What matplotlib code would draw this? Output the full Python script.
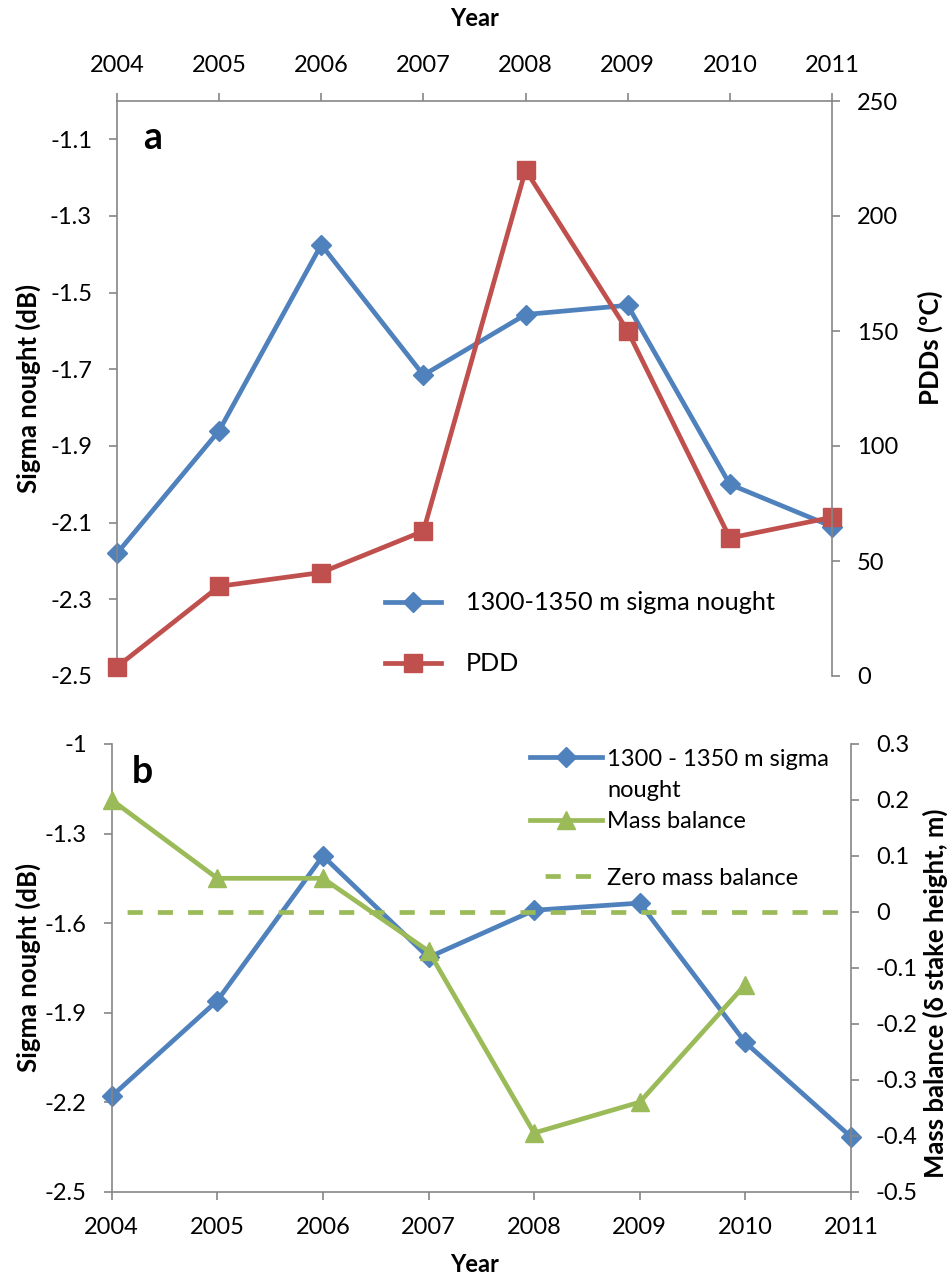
import matplotlib

matplotlib.use("Agg")
import matplotlib.pyplot as plt
from matplotlib.lines import Line2D
from matplotlib.ticker import FixedLocator

plt.rcParams["font.family"] = ["Lato", "DejaVu Sans"]
plt.rcParams["axes.unicode_minus"] = False

years = [2004, 2005, 2006, 2007, 2008, 2009, 2010, 2011]
year_labels = [str(y) for y in years]

# panel a: backscatter vs positive degree days
sigma_a = [-2.18, -1.86, -1.375, -1.715, -1.557, -1.533, -2.0, -2.11]
pdd = [4, 39, 45, 63, 220, 150, 60, 69]

# panel b: backscatter vs stake mass balance
sigma_b = [-2.18, -1.86, -1.375, -1.715, -1.557, -1.533, -2.0, -2.316]
mb_years = [2004, 2005, 2006, 2007, 2008, 2009, 2010]
mass_balance = [0.2, 0.06, 0.06, -0.07, -0.395, -0.34, -0.13]
zero_balance = [0, 0, 0, 0, 0, 0, 0, 0]

a_left_ticks = [-2.5, -2.3, -2.1, -1.9, -1.7, -1.5, -1.3, -1.1]
a_right_ticks = [0, 50, 100, 150, 200, 250]
b_left_ticks = [-2.5, -2.2, -1.9, -1.6, -1.3, -1.0]
b_right_ticks = [-0.5, -0.4, -0.3, -0.2, -0.1, 0.0, 0.1, 0.2, 0.3]

BLUE = "#4F81BD"
RED = "#C0504D"
GREEN = "#9BBB59"
GREY = "#868686"
FS = 17
LABEL_FS = 18.5
LW = 3.4


def style_axis(ax):
    for spine in ax.spines.values():
        spine.set_color(GREY)
        spine.set_linewidth(1.2)
    ax.tick_params(which="both", direction="out", length=6, width=1.2,
                   color=GREY, labelsize=FS, pad=12)


def fmt(v):
    return f"{v:g}"


W, H = 951, 1281
fig = plt.figure(figsize=(W / 100, H / 100), dpi=100)
ax_a = fig.add_axes([117 / W, 1 - 676 / H, 715 / W, 575 / H])
ax_b = fig.add_axes([111.7 / W, 1 - 1191.7 / H, 739.2 / W, 447.7 / H])

# ---- panel a ----
ax_pdd = ax_a.twinx()
for ax in (ax_a, ax_pdd):
    style_axis(ax)
    for side in ax.spines:
        ax.spines[side].set_visible(False)
ax_a.spines["left"].set_visible(True)
ax_a.spines["top"].set_visible(True)
ax_pdd.spines["right"].set_visible(True)

sig_line_a, = ax_a.plot(years, sigma_a, color=BLUE, lw=LW, marker="D",
                        ms=10.5, mec=BLUE, clip_on=False)
pdd_line, = ax_pdd.plot(years, pdd, color=RED, lw=LW, marker="s", ms=13,
                        mec=RED, clip_on=False)

ax_a.set_xlim(2004, 2011)
ax_a.set_ylim(-2.5, -1.0)
ax_pdd.set_ylim(0, 250)
ax_a.xaxis.tick_top()
ax_a.xaxis.set_major_locator(FixedLocator(years))
ax_a.set_xticklabels(year_labels)
ax_a.yaxis.set_major_locator(FixedLocator(a_left_ticks))
ax_a.set_yticklabels([fmt(v) for v in a_left_ticks])
ax_pdd.yaxis.set_major_locator(FixedLocator(a_right_ticks))
ax_pdd.set_yticklabels([fmt(v) for v in a_right_ticks])

ax_a.set_xlabel("Year", fontsize=FS, fontweight="bold")
ax_a.xaxis.set_label_position("top")
ax_a.xaxis.set_label_coords(0.5, 1.144)
ax_a.xaxis.label.set_verticalalignment("center")
ax_a.set_ylabel("Sigma nought (dB)", fontsize=LABEL_FS, fontweight="bold")
ax_a.yaxis.set_label_coords(-0.1245, 0.5)
ax_a.yaxis.label.set_verticalalignment("center")
ax_pdd.set_ylabel("PDDs (ºC)", fontsize=LABEL_FS, fontweight="bold")
ax_pdd.yaxis.set_label_coords(1.137, 0.571)
ax_pdd.yaxis.label.set_verticalalignment("center")

ax_a.text(0.05, 0.936, "a", transform=ax_a.transAxes, fontsize=27,
          fontweight="bold", ha="center", va="center")

ax_pdd.legend([sig_line_a, pdd_line], ["1300-1350 m sigma nought", "PDD"],
              loc="upper left", bbox_to_anchor=(0.375, 0.147), frameon=False,
              fontsize=18.2, handlelength=2.2, handletextpad=0.98,
              labelspacing=1.5, borderpad=0, borderaxespad=0)

# ---- panel b ----
ax_mb = ax_b.twinx()
for ax in (ax_b, ax_mb):
    style_axis(ax)
    for side in ax.spines:
        ax.spines[side].set_visible(False)
ax_b.spines["left"].set_visible(True)
ax_b.spines["bottom"].set_visible(True)
ax_mb.spines["right"].set_visible(True)

sig_line_b, = ax_b.plot(years, sigma_b, color=BLUE, lw=LW, marker="D",
                        ms=10.5, mec=BLUE, clip_on=False)
mb_line, = ax_mb.plot(mb_years, mass_balance, color=GREEN, lw=LW,
                      marker="^", ms=13, mec=GREEN, clip_on=False)
zero_line, = ax_mb.plot(years, zero_balance, color=GREEN, lw=LW,
                        ls=(3.2, (3.2, 3.2)))

ax_b.set_xlim(2004, 2011)
ax_b.set_ylim(-2.5, -1.0)
ax_mb.set_ylim(-0.5, 0.3)
ax_b.xaxis.set_major_locator(FixedLocator(years))
ax_b.set_xticklabels(year_labels)
ax_b.yaxis.set_major_locator(FixedLocator(b_left_ticks))
ax_b.set_yticklabels([fmt(v) for v in b_left_ticks])
ax_mb.yaxis.set_major_locator(FixedLocator(b_right_ticks))
ax_mb.set_yticklabels([fmt(round(v, 1)) for v in b_right_ticks])

ax_b.set_xlabel("Year", fontsize=FS, fontweight="bold")
ax_b.xaxis.set_label_coords(0.4915, -0.1637)
ax_b.xaxis.label.set_verticalalignment("center")
ax_b.set_ylabel("Sigma nought (dB)", fontsize=LABEL_FS, fontweight="bold")
ax_b.yaxis.set_label_coords(-0.1132, 0.5)
ax_b.yaxis.label.set_verticalalignment("center")
ax_mb.set_ylabel("Mass balance (δ stake height, m)", fontsize=LABEL_FS,
                 fontweight="bold")
ax_mb.yaxis.set_label_coords(1.1138, 0.444)
ax_mb.yaxis.label.set_verticalalignment("center")

ax_b.text(0.042, 0.9375, "b", transform=ax_b.transAxes, fontsize=27,
          fontweight="bold", ha="center", va="center")

# the wrapped series name takes its own row so the key sits on the first line
wrap = Line2D([], [], linestyle="none")
leg_kw = dict(loc="upper left", frameon=False, fontsize=FS,
              handlelength=3.05, handletextpad=0.21, borderpad=0,
              borderaxespad=0)
leg_top = ax_mb.legend([sig_line_b, wrap, mb_line],
                       ["1300 - 1350 m sigma", "nought", "Mass balance"],
                       bbox_to_anchor=(0.566, 0.9895), labelspacing=0.44,
                       **leg_kw)
ax_mb.add_artist(leg_top)
ax_mb.legend([zero_line], ["Zero mass balance"],
             bbox_to_anchor=(0.566, 0.7236), **leg_kw)

fig.savefig("out.png", dpi=100)
plt.close(fig)
